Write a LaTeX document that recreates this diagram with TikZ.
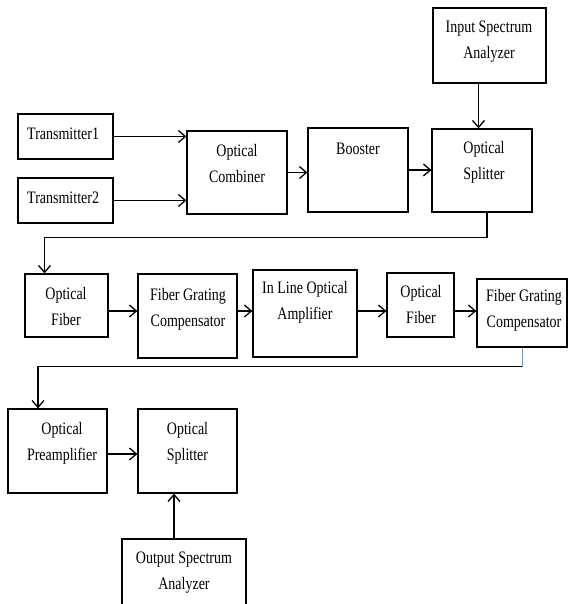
\documentclass[tikz,border=0pt]{standalone}
\usepackage{fontspec}
\setmainfont{Liberation Serif}[FakeStretch=0.8]
\usetikzlibrary{arrows.meta,fit}

\tikzset{
  blk/.style={draw, line width=1.2pt, inner sep=0pt},
  txt/.style={align=center, inner sep=0pt, font=\fontsize{17.5}{26}\selectfont},
  arr/.style={line width=1.4pt, -{Straight Barb[length=7pt,width=12pt,line width=1.3pt]}},
}

\begin{document}
\begin{tikzpicture}[x=1pt,y=1pt,yscale=-1,xscale=1]
\clip (0,0) rectangle (568,604);

% Blocks
\node[blk, fit={(433,8) (546,83)}] (isa) {};
\node[blk, fit={(18,114) (113,159)}] (tx1) {};
\node[blk, fit={(18,178) (113,223)}] (tx2) {};
\node[blk, fit={(187,131) (287,214)}] (comb) {};
\node[blk, fit={(308,128) (408,212)}] (boost) {};
\node[blk, fit={(432,129) (532,212)}] (split1) {};
\node[blk, fit={(25,274) (108,337)}] (of1) {};
\node[blk, fit={(138,274) (237,358)}] (fgc1) {};
\node[blk, fit={(253,270) (357,357)}] (iloa) {};
\node[blk, fit={(387,273) (454,337)}] (of2) {};
\node[blk, fit={(477,279) (567,347)}] (fgc2) {};
\node[blk, fit={(8,409) (107,493)}] (pre) {};
\node[blk, fit={(138,409) (237,493)}] (split2) {};
\node[blk, fit={(122,539) (246,640)}] (osa) {};

% Text Node
\node[txt] (isatxt) at (489,42) {Input Spectrum\\Analyzer};
\node[txt, anchor=west] (tx1txt) at (27,134) {Transmitter1};
\node[txt, anchor=west] (tx2txt) at (27,198) {Transmitter2};
\node[txt] (combtxt) at (237,164) {Optical\\Combiner};
\node[txt] (boosttxt) at (358,149) {Booster};
\node[txt] (split1txt) at (484,162) {Optical\\Splitter};
\node[txt] (of1txt) at (66,307) {Optical\\Fiber};
\node[txt] (fgc1txt) at (188,309) {Fiber Grating\\Compensator};
\node[txt] (iloatxt) at (305,302) {In Line Optical\\Amplifier};
\node[txt] (of2txt) at (421,305) {Optical\\Fiber};
\node[txt] (fgc2txt) at (524,310) {Fiber Grating\\Compensator};
\node[txt] (pretxt) at (62,443) {Optical\\Preamplifier};
\node[txt] (split2txt) at (187.5,443) {Optical\\Splitter};
\node[txt] (osatxt) at (184,573) {Output Spectrum\\Analyzer};

\coordinate (rowb) at (0,311);

%Straight Lines
\draw[arr] (tx1.east) -- (tx1.east -| comb.west);
\draw[arr] (tx2.east) -- (tx2.east -| comb.west);
\draw[arr] (comb.east) -- (comb.east -| boost.west);
\draw[arr] (boost.east) -- (boost.east -| split1.west);
\draw[arr] ([xshift=-11pt]isa.south) -- ([xshift=-11pt]isa.south |- split1.north);
\draw[arr] ([xshift=5pt]split1.south) -- ++(0,25) -| ([xshift=-22pt]of1.north);
\draw[arr] (of1.east |- rowb) -- (fgc1.west |- rowb);
\draw[arr] (fgc1.east |- rowb) -- (iloa.west |- rowb);
\draw[arr] (iloa.east |- rowb) -- (of2.west |- rowb);
\draw[arr] (of2.east |- rowb) -- (fgc2.west |- rowb);
\draw[line width=0.9pt, color={rgb,255:red,91;green,155;blue,213}] (fgc2.south) -- ++(0,19) coordinate (bend);
\draw[arr] (bend) -| ([xshift=-19.5pt]pre.north);
\draw[arr] ([yshift=3pt]pre.east) -- ([yshift=3pt]pre.east -| split2.west);
\draw[arr] ([xshift=-13.5pt]split2.south |- osa.north) -- ([xshift=-13.5pt]split2.south);

\end{tikzpicture}
\end{document}
